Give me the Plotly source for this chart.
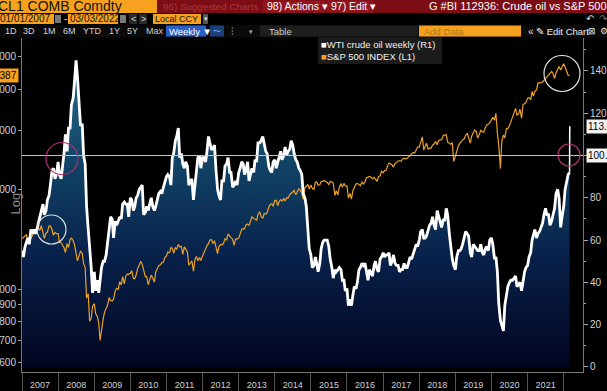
import math
import pandas as pd
import plotly.graph_objects as go

# ---------------- data (semi-monthly readings, 1st & 15th) ----------------
start_date = "2007-01-01"

wti = [
    55, 52, 57, 59, 61, 58, 65, 63, 65, 63, 65, 68, 71, 74, 77, 72, 74, 79, 81, 86, 93, 94, 89, 91,          # 2007
    97, 91, 89, 95, 101, 110, 102, 113, 113, 124, 127, 135, 145, 137, 124, 114, 115, 100, 96, 76, 65, 57, 47, 35,  # 2008
    45, 36, 41, 35, 40, 47, 50, 50, 53, 58, 66, 71, 70, 61, 69, 67, 69, 71, 70, 77, 78, 77, 77, 71,          # 2009
    80, 79, 74, 76, 80, 81, 84, 85, 86, 72, 73, 76, 74, 77, 80, 76, 74, 76, 80, 82, 83, 82, 85, 88,          # 2010
    90, 91, 90, 86, 99, 101, 107, 109, 113, 99, 101, 96, 94, 97, 95, 86, 88, 89, 79, 87, 93, 99, 100, 94,    # 2011
    99, 99, 97, 102, 109, 106, 103, 103, 105, 94, 84, 81, 79, 88, 88, 95, 96, 99, 92, 92, 85, 86, 88, 86,    # 2012
    92, 94, 97, 96, 91, 93, 97, 88, 91, 94, 92, 98, 97, 106, 106, 107, 109, 106, 102, 101, 95, 93, 92, 97,   # 2013
    98, 94, 97, 100, 102, 98, 100, 104, 100, 102, 103, 107, 105, 101, 98, 97, 94, 93, 91, 82, 80, 76, 66, 56,  # 2014
    53, 47, 48, 52, 49, 45, 49, 56, 59, 60, 60, 60, 57, 51, 47, 42, 46, 45, 46, 47, 46, 41, 41, 36,          # 2015
    37, 29, 32, 29, 34, 38, 37, 40, 46, 47, 49, 48, 49, 46, 41, 46, 44, 43, 48, 50, 46, 45, 51, 52,          # 2016
    54, 52, 53, 53, 54, 48, 50, 53, 49, 48, 48, 45, 46, 46, 49, 47, 47, 50, 52, 51, 54, 56, 58, 57,          # 2017
    60, 64, 65, 61, 61, 62, 65, 67, 68, 71, 67, 65, 74, 71, 69, 66, 70, 69, 75, 72, 63, 57, 51, 48,          # 2018
    46, 52, 55, 55, 56, 58, 61, 64, 63, 62, 54, 52, 58, 57, 56, 55, 55, 58, 54, 53, 56, 57, 55, 60,          # 2019
    61, 58, 51, 52, 45, 30, 22, 19, 17, 29, 35, 38, 40, 41, 41, 42, 43, 38, 39, 40, 36, 41, 45, 47,          # 2020
    48, 52, 54, 60, 62, 65, 61, 63, 64, 66, 68, 72, 75, 72, 72, 67, 69, 72, 75, 82, 84, 80, 66, 71,          # 2021
    76, 84, 88, 91, 92,                                                                                      # 2022
]
wti_last_date = "2022-03-03"
wti_last = 113.8

spx = [
    1418, 1430, 1445, 1456, 1400, 1387, 1420, 1445, 1486, 1500, 1536, 1522, 1503, 1552, 1465, 1420, 1473, 1484, 1547, 1548, 1508, 1451, 1481, 1468,  # 2007
    1468, 1380, 1378, 1350, 1331, 1288, 1370, 1334, 1409, 1423, 1400, 1360, 1280, 1215, 1260, 1298, 1282, 1192, 1160, 940, 968, 800, 816, 888,     # 2008
    903, 843, 826, 790, 700, 757, 811, 852, 877, 893, 942, 923, 920, 932, 987, 1005, 998, 1052, 1029, 1090, 1036, 1093, 1108, 1107,             # 2009
    1115, 1136, 1074, 1075, 1104, 1150, 1178, 1211, 1187, 1135, 1089, 1089, 1030, 1065, 1101, 1079, 1049, 1125, 1146, 1176, 1183, 1199, 1206, 1241,  # 2010
    1258, 1293, 1286, 1332, 1327, 1281, 1332, 1319, 1363, 1338, 1345, 1271, 1339, 1316, 1292, 1179, 1204, 1216, 1131, 1224, 1253, 1216, 1244, 1219,  # 2011
    1258, 1289, 1312, 1351, 1370, 1404, 1408, 1370, 1398, 1330, 1278, 1342, 1362, 1357, 1375, 1418, 1406, 1465, 1440, 1428, 1412, 1353, 1416, 1413,  # 2012
    1426, 1472, 1513, 1520, 1518, 1560, 1569, 1552, 1597, 1650, 1631, 1626, 1606, 1680, 1706, 1655, 1633, 1688, 1682, 1698, 1762, 1798, 1806, 1775,  # 2013
    1848, 1848, 1782, 1838, 1859, 1841, 1872, 1842, 1883, 1878, 1924, 1937, 1960, 1981, 1925, 1955, 2003, 1985, 1946, 1862, 2018, 2039, 2067, 2002,  # 2014
    2058, 2011, 1995, 2096, 2104, 2053, 2059, 2106, 2108, 2122, 2107, 2094, 2063, 2108, 2104, 2083, 1913, 1978, 1920, 2023, 2079, 2023, 2080, 2043,  # 2015
    2044, 1880, 1940, 1865, 1978, 2020, 2072, 2081, 2065, 2047, 2097, 2071, 2103, 2162, 2173, 2184, 2171, 2147, 2168, 2133, 2111, 2180, 2191, 2262,  # 2016
    2239, 2275, 2279, 2349, 2396, 2385, 2363, 2329, 2388, 2402, 2430, 2433, 2423, 2459, 2476, 2464, 2476, 2500, 2519, 2553, 2579, 2564, 2642, 2676,  # 2017
    2674, 2786, 2872, 2620, 2678, 2747, 2641, 2656, 2655, 2711, 2735, 2779, 2718, 2801, 2813, 2818, 2902, 2904, 2914, 2767, 2740, 2730, 2760, 2420,  # 2018
    2506, 2600, 2704, 2745, 2784, 2811, 2834, 2905, 2945, 2834, 2752, 2887, 2941, 3013, 2980, 2848, 2926, 3007, 2977, 2966, 3066, 3120, 3141, 3168,  # 2019
    3231, 3289, 3225, 3380, 2954, 2711, 2305, 2790, 2912, 2852, 3044, 3041, 3100, 3197, 3271, 3373, 3500, 3340, 3363, 3483, 3270, 3585, 3622, 3647,  # 2020
    3756, 3768, 3714, 3934, 3811, 3943, 3973, 4170, 4181, 4174, 4204, 4247, 4298, 4360, 4395, 4468, 4523, 4459, 4307, 4471, 4605, 4682, 4567, 4668,  # 2021
    4766, 4662, 4516, 4401, 4387,                                                                                                              # 2022
]

years = list(range(2007, 2022))
year_labels = [str(y) for y in years]
wti_ticks = [0, 20, 40, 60, 80, 100, 120, 140]
spx_ticks = [600, 700, 800, 900, 1000, 2000, 3000, 4000, 5000]
wti_ref_level = 100

wti_dates = pd.date_range(start_date, periods=len(wti), freq="SMS")
spx_dates = pd.date_range(start_date, periods=len(spx), freq="SMS")

# ---------------- geometry helpers ----------------
FIG_W, FIG_H = 607, 391
ML, MR, MT, MB = 22, 24, 38, 19
FONT = "Liberation Sans, Arial, sans-serif"


def px(x):
    return (x - ML) / (FIG_W - ML - MR)


def py(y):
    return (FIG_H - MB - y) / (FIG_H - MT - MB)


shapes = []
annotations = []


def box(x0, y0, x1, y1, color):
    shapes.append(dict(type="rect", xref="paper", yref="paper",
                       x0=px(x0), x1=px(x1), y0=py(y1), y1=py(y0),
                       fillcolor=color, line=dict(width=0), layer="above"))


def label(x, y, text, color, size=10, anchor="left"):
    annotations.append(dict(xref="paper", yref="paper", x=px(x), y=py(y), text=text,
                            showarrow=False, xanchor=anchor, yanchor="middle",
                            font=dict(color=color, size=size, family=FONT), borderpad=0))


def circle(cx, cy, r, color):
    shapes.append(dict(type="circle", xref="paper", yref="paper",
                       x0=px(cx - r), x1=px(cx + r), y0=py(cy + r), y1=py(cy - r),
                       line=dict(color=color, width=1.2), layer="above"))


# ---------------- traces ----------------
fig = go.Figure()
fig.add_trace(go.Scatter(
    x=wti_dates, y=wti, yaxis="y", mode="lines",
    line=dict(width=0, color="rgba(0,0,0,0)"), fill="tozeroy",
    fillgradient=dict(type="vertical", start=0, stop=150,
                      colorscale=[[0, "#020520"], [0.35, "#08214a"], [0.7, "#134a6c"], [1, "#2a7090"]]),
    hoverinfo="skip", showlegend=False))
fig.add_trace(go.Scatter(
    x=spx_dates, y=spx, yaxis="y2", mode="lines", name="S&P 500 INDEX (L1)",
    line=dict(color="#eaa127", width=1.2), showlegend=False))
fig.add_trace(go.Scatter(
    x=wti_dates, y=wti, yaxis="y3", mode="lines", name="WTI crude oil weekly (R1)",
    line=dict(color="#ffffff", width=2.8), showlegend=False))
fig.add_trace(go.Scatter(
    x=[wti_dates[-1], pd.Timestamp(wti_last_date)], y=[wti[-1], wti_last], yaxis="y3", mode="lines",
    line=dict(color="#ffffff", width=1.5), showlegend=False, hoverinfo="skip"))

# ---------------- decorations ----------------
shapes.append(dict(type="line", xref="paper", yref="y", x0=0, x1=1, y0=wti_ref_level, y1=wti_ref_level,
                   line=dict(color="#c8c8c8", width=1), layer="above"))

annotations.append(dict(xref="paper", yref="y", x=1, y=wti_last, xanchor="left", xshift=3,
                        text=f"{wti_last:.1f}", showarrow=False, bgcolor="#f2f2f2",
                        font=dict(color="#000000", size=10, family=FONT), borderpad=1))
annotations.append(dict(xref="paper", yref="y", x=1, y=wti_ref_level, xanchor="left", xshift=3,
                        text=f"{wti_ref_level:.1f}", showarrow=False, bgcolor="#f2f2f2",
                        font=dict(color="#000000", size=10, family=FONT), borderpad=1))
annotations.append(dict(xref="paper", yref="y2", x=0, y=math.log10(spx[-1]), xanchor="right", xshift=-3,
                        text=f"{spx[-1]}", showarrow=False, bgcolor="#f4a11c",
                        font=dict(color="#000000", size=10, family=FONT), borderpad=1))
annotations.append(dict(xref="paper", yref="paper", x=px(5), y=py(204), text="Log", textangle=-90,
                        showarrow=False, font=dict(color="#8a8a8a", size=13, family=FONT)))

circle(62, 158.5, 16, "#b0306e")
circle(51.5, 229.5, 14.5, "#dddddd")
circle(569, 155, 11, "#b0306e")
circle(562, 73.5, 18, "#dddddd")

# legend box
box(318, 37, 442, 64, "#1b1b1b")
label(320, 44.5, "<span style='color:#ffffff'>■</span>WTI crude oil weekly (R1)", "#f0f0f0", 9.5)
label(320, 56.5, "<span style='color:#eaa127'>■</span>S&amp;P 500 INDEX (L1)", "#f0f0f0", 9.5)

# ---------------- Bloomberg toolbar ----------------
box(0, 0, 607, 13, "#7d0d14")
box(0, 0, 157, 13, "#f6a21e")
label(-3, 6.5, "CL1 COMB Comdty", "#111111", 14)
label(162, 6.5, "96) Suggested Charts", "#a8383c", 9.8)
box(263, 0.5, 325, 12.5, "#91151d")
label(266, 6.5, "98) Actions ▾", "#ffffff", 10.5)
box(327, 0.5, 373, 12.5, "#91151d")
label(330, 6.5, "97) Edit ▾", "#ffffff", 10.5)
label(608, 6.5, "G #BI 112936: Crude oil vs S&amp;P 500", "#ffffff", 11, anchor="right")

box(0, 14, 54, 24, "#f6a21e")
label(-1, 19, "01/01/2007", "#111111", 10)
box(55, 15, 61, 23, "#7a7a7a")
label(63, 19, "-", "#dddddd", 10)
box(68, 14, 118, 24, "#f6a21e")
label(69, 19, "03/03/2022", "#111111", 10)
box(120, 15, 126, 23, "#7a7a7a")
box(129, 14, 137, 24, "#2a2a2a")
label(133, 19, "&lt;", "#dddddd", 9, anchor="center")
box(139, 14, 147, 24, "#2a2a2a")
label(143, 19, "&gt;", "#dddddd", 9, anchor="center")
box(153, 14, 201, 24, "#f6a21e")
label(154, 19, "Local CCY", "#111111", 9)
box(203, 14, 208, 24, "#555555")
label(205.5, 19, "▾", "#dddddd", 7, anchor="center")
label(590, 19, "↶", "#dddddd", 10, anchor="center")
label(603, 19, "↷", "#777777", 10, anchor="center")

box(0, 25, 607, 37.5, "#0a0a0a")
for xx, tt in [(4, "1D"), (22, "3D"), (42, "1M"), (62, "6M"), (82, "YTD"), (108, "1Y"), (126, "5Y"), (145, "Max")]:
    label(xx, 31, tt, "#cfcfcf", 9)
box(166, 25.5, 206, 36.5, "#2a60c6")
label(168, 31, "Weekly ▼", "#ffffff", 9.5)
box(210, 25.5, 224, 36.5, "#1c3f7a")
label(217, 31, "〜", "#8ab8ff", 8, anchor="center")
label(232, 31, "⫶", "#cfcfcf", 10, anchor="center")
label(251, 31, "▾", "#aaaaaa", 7, anchor="center")
box(260, 25.5, 418, 36.5, "#1e1e1e")
label(268, 31, "Table", "#cfcfcf", 9.5)
box(419, 25.5, 521, 36.5, "#f6a21e")
label(423, 31, "Add Data", "#b07818", 9.5)
label(527, 31, "«", "#dddddd", 10)
label(535, 31, "✎ Edit Chart", "#eeeeee", 9.5)
label(587, 31, "⊠", "#dddddd", 9)
label(599, 31, "⚙", "#dddddd", 9)

# ---------------- layout ----------------
axis_font = dict(family=FONT, size=10, color="#d0d0d0")
wti_ticktext = ["" if v == wti_ref_level else str(v) for v in wti_ticks]  # covered by the 100.0 tag
fig.update_layout(
    width=FIG_W, height=FIG_H,
    margin=dict(l=ML, r=MR, t=MT, b=MB, autoexpand=False),
    paper_bgcolor="#000000", plot_bgcolor="#000000",
    showlegend=False,
    font=dict(family=FONT, color="#d0d0d0", size=10),
    xaxis=dict(type="date", range=["2007-01-01", "2022-07-15"],
               tickmode="array", tickvals=[f"{y}-07-02" for y in years], ticktext=year_labels,
               ticks="", showline=True, linecolor="#777777", linewidth=1,
               showgrid=False, zeroline=False, tickfont=dict(family=FONT, size=9, color="#d0d0d0"),
               ticklabelstandoff=4,
               minor=dict(ticks="outside", ticklen=19, tickcolor="#555555", dtick="M12",
                          tick0="2007-01-01", showgrid=False)),
    yaxis=dict(side="right", range=[-2.4, 155.6], tickmode="array", tickvals=wti_ticks, ticktext=wti_ticktext,
               ticks="outside", ticklen=4, tickcolor="#aaaaaa", showline=True, linecolor="#777777",
               showgrid=False, zeroline=False, tickfont=axis_font,
               minor=dict(ticks="outside", ticklen=2, dtick=10, tick0=0, tickcolor="#aaaaaa")),
    yaxis2=dict(overlaying="y", side="left", type="log", range=[2.75, 3.756],
                tickmode="array", tickvals=spx_ticks, ticktext=[str(v) for v in spx_ticks],
                ticks="outside", ticklen=3, tickcolor="#aaaaaa", showline=True, linecolor="#777777",
                showgrid=False, zeroline=False, tickfont=axis_font),
    yaxis3=dict(overlaying="y", range=[-2.4, 155.6], visible=False),
    shapes=shapes, annotations=annotations,
)

fig.write_html("out.html", config={"displayModeBar": False},
               post_script="document.body.style.margin='0';document.body.style.overflow='hidden';")
